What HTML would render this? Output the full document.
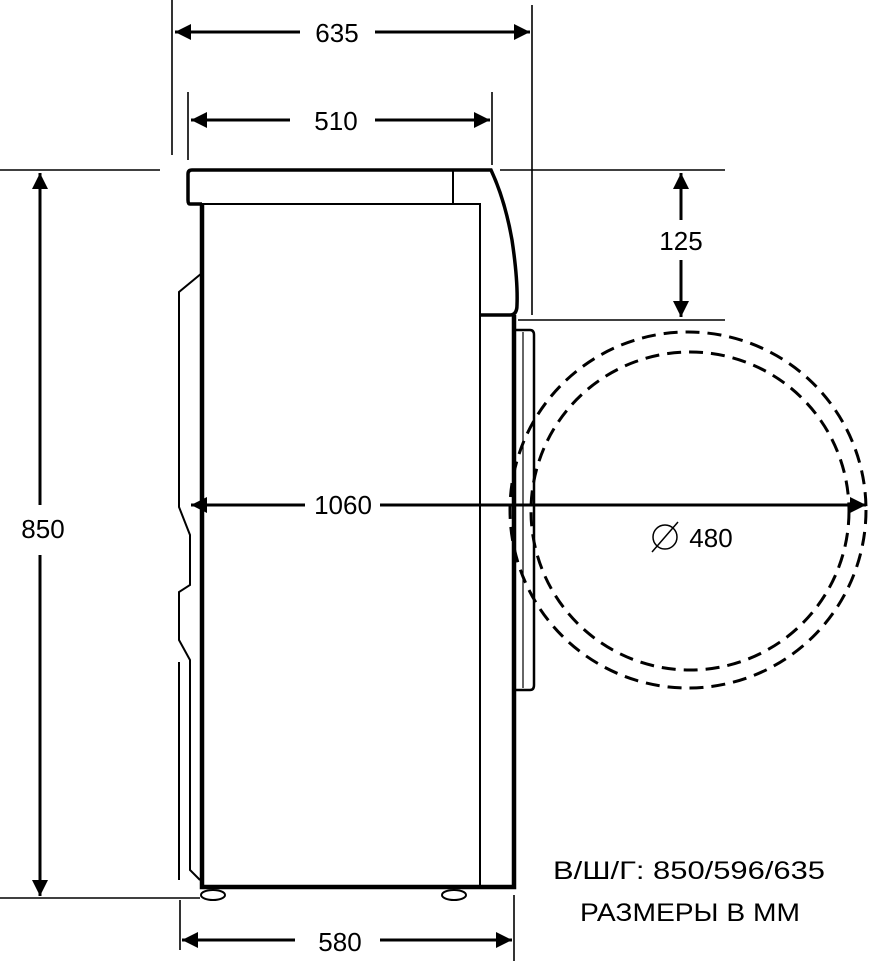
<!DOCTYPE html>
<html><head><style>body{margin:0;background:#fff}svg{display:block}text{font-family:"Liberation Sans","DejaVu Sans",sans-serif;fill:#000}</style></head>
<body>
<svg width="869" height="961" viewBox="0 0 869 961" xmlns="http://www.w3.org/2000/svg">
<defs>
<marker id="b" viewBox="0 0 10 10" refX="10" refY="5" markerWidth="22" markerHeight="16" markerUnits="userSpaceOnUse" orient="auto-start-reverse"><path d="M0,0L10,5L0,10z"/></marker></defs>
<g stroke="#000" fill="none">
<g stroke-width="1.6">
<line x1="172" y1="0" x2="172" y2="155"/><line x1="532" y1="5" x2="532" y2="315"/>
<line x1="188" y1="92" x2="188" y2="160"/><line x1="492" y1="92" x2="492" y2="165"/>
<line x1="0" y1="170" x2="160" y2="170"/><line x1="0" y1="898" x2="200" y2="898"/>
<line x1="500" y1="170" x2="725" y2="170"/><line x1="518" y1="320" x2="725" y2="320"/>
<line x1="180" y1="900" x2="180" y2="950"/><line x1="514" y1="895" x2="514" y2="961"/>
</g>
<g stroke-width="3">
<line x1="175" y1="32" x2="300" y2="32" marker-start="url(#b)"/><line x1="375" y1="32" x2="530" y2="32" marker-end="url(#b)"/>
<line x1="191" y1="120" x2="290" y2="120" marker-start="url(#b)"/><line x1="375" y1="120" x2="490" y2="120" marker-end="url(#b)"/>
<line x1="40" y1="173" x2="40" y2="505" marker-start="url(#b)"/><line x1="40" y1="555" x2="40" y2="896" marker-end="url(#b)"/>
<line x1="681" y1="173" x2="681" y2="220" marker-start="url(#b)"/><line x1="681" y1="260" x2="681" y2="317" marker-end="url(#b)"/>
<line x1="191" y1="505" x2="305" y2="505" marker-start="url(#b)"/><line x1="380" y1="505" x2="866" y2="505" marker-end="url(#b)"/>
<line x1="182" y1="940" x2="295" y2="940" marker-start="url(#b)"/><line x1="380" y1="940" x2="512" y2="940" marker-end="url(#b)"/>
</g>
<path d="M202,204 L190,204 Q188,204 188,200 L188,174 Q188,170 192,170 L491,170 Q505,200 512,240 Q518,280 517,305 Q517,315 510,315 L480,315" stroke-width="3.5"/>
<line x1="453" y1="171" x2="453" y2="204" stroke-width="2"/>
<path d="M202,204 L480,204 L480,887" stroke-width="2"/>
<path d="M202,204 L202,887 L514,887 L514,315" stroke-width="4.5"/>
<path d="M514,330 L530,330 Q534,330 534,335 L534,685 Q534,690 530,690 L514,690" stroke-width="2.5"/>
<line x1="523" y1="332" x2="523" y2="688" stroke-width="1.2"/>
<path d="M202,273 L179,292 L179,507 L190,535 L190,585 L179,592 L179,640 L190,660 L190,870 L200,880" stroke-width="2"/>
<line x1="179" y1="662" x2="179" y2="880" stroke-width="2"/>
<ellipse cx="213" cy="895" rx="12" ry="5" stroke-width="2"/>
<ellipse cx="454" cy="895" rx="12" ry="5" stroke-width="2"/>
<circle cx="688" cy="510" r="178" stroke-width="3" stroke-dasharray="14 8"/>
<circle cx="690" cy="511" r="159" stroke-width="3" stroke-dasharray="14 8"/>
<circle cx="665" cy="537" r="12" stroke-width="1.5"/><line x1="652" y1="552" x2="678" y2="522" stroke-width="1.5"/>
</g>
<g font-size="26" text-anchor="middle">
<text x="337" y="42">635</text>
<text x="336" y="130">510</text>
<text x="43" y="538">850</text>
<text x="681" y="250">125</text>
<text x="343" y="514">1060</text>
<text x="711" y="547">480</text>
<text x="340" y="951">580</text>
</g>
<g font-size="25">
<text x="553" y="879" textLength="272" lengthAdjust="spacingAndGlyphs">В/Ш/Г:  850/596/635</text>
<text x="580" y="921" textLength="220" lengthAdjust="spacingAndGlyphs">РАЗМЕРЫ В ММ</text>
</g>
</svg>
</body></html>
